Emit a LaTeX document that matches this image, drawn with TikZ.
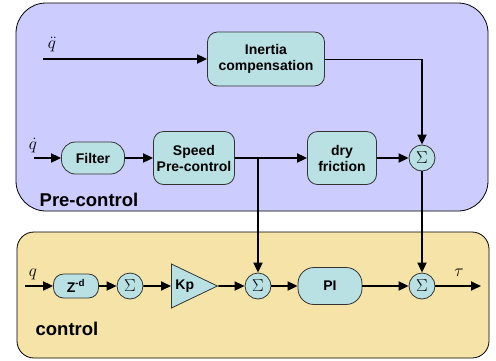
\documentclass[tikz,border=0pt]{standalone}
\usepackage[no-math]{fontspec}
\setmainfont{Liberation Sans}
\usepackage{amsmath}
\usetikzlibrary{shapes.geometric,arrows.meta,positioning,calc}

\definecolor{precolor}{RGB}{204,204,255}
\definecolor{ctrlcolor}{RGB}{245,227,168}
\definecolor{blockcolor}{RGB}{185,225,228}

\begin{document}
\begin{tikzpicture}[
    x=1pt, y=-1pt,
    area/.style={draw=black, line width=0.8pt},
    blockbox/.style={rectangle, draw=black!80, fill=blockcolor, line width=0.8pt, rounded corners=10pt, align=center, inner sep=1pt, font=\fontsize{14}{16}\selectfont\bfseries},
    sumnode/.style={circle, draw=black!80, fill=blockcolor, line width=0.8pt, minimum size=26pt, inner sep=0pt, font=\fontsize{16}{16}\selectfont},
    ampbox/.style={isosceles triangle, isosceles triangle stretches, draw=black!80, fill=blockcolor, line width=0.8pt, inner sep=1pt, font=\fontsize{14}{16}\selectfont\bfseries},
    areatitle/.style={font=\fontsize{18.5}{20}\selectfont\bfseries},
    siglabel/.style={font=\fontsize{17}{17}\selectfont},
    flow/.style={-{Triangle[length=10pt,width=9pt]}, line width=1.8pt}
]
\useasboundingbox (0,0) rectangle (496,360);

% Background areas
\draw[area, fill=precolor, rounded corners=30pt] (16,3) rectangle (488,211);
\draw[area, fill=ctrlcolor, rounded corners=17pt] (17,232) rectangle (489,358);
\node[areatitle] (pretitle) at (89,200) {Pre-control};
\node[areatitle] (ctrltitle) at (67,329) {control};

% Pre-control path
\coordinate (qddin) at (43,59);
\coordinate (qdin) at (34,158);
\node[siglabel] (qddlbl) at (52,45) {$\ddot{q}$};
\node[siglabel] (qdlbl) at (33,146) {$\dot{q}$};
\node[blockbox, minimum width=117pt, minimum height=54pt] (inertia) at (266,59) {Inertia\\compensation};
\node[blockbox, minimum width=63pt, minimum height=32pt, rounded corners=14pt] (filter) at (93,158) {Filter};
\node[blockbox, minimum width=81pt, minimum height=53pt] (speed) at (194,158) {Speed\\Pre-control};
\node[blockbox, minimum width=69pt, minimum height=53pt] (dry) at (342,158) {dry\\friction};
\node[sumnode] (sumpre) at (422,158) {$\Sigma$};

% Control path
\coordinate (qin) at (25,286);
\node[siglabel] (qlbl) at (33,274) {$q$};
\node[blockbox, minimum width=45pt, minimum height=24pt] (zd) at (76,286) {Z\textsuperscript{-d}};
\node[sumnode] (sumone) at (130,286) {$\Sigma$};
\node[ampbox, minimum width=44pt, minimum height=46pt, anchor=west] (kp) at (171,286) {Kp};
\node[sumnode] (sumtwo) at (258,286) {$\Sigma$};
\node[blockbox, minimum width=64pt, minimum height=37pt, rounded corners=16pt] (pi) at (330,286) {PI};
\node[sumnode] (sumout) at (422,286) {$\Sigma$};
\coordinate (tauout) at (481,286);
\node[siglabel] (taulbl) at (459,273) {$\tau$};

% Connect paths
\draw[flow] (qddin) -- (inertia);
\draw[line width=1pt] (inertia.east) -- (inertia.east -| sumpre);
\draw[flow] (inertia.east -| sumpre) -- (sumpre.north);
\draw[flow] (qdin) -- (filter);
\draw[flow] (filter) -- (speed);
\draw[flow] (speed) -- (dry);
\draw[flow] (dry) -- (sumpre);
\draw[flow] (speed.east -| sumtwo) -- (sumtwo);
\draw[flow] (sumpre) -- (sumout);

\draw[flow] (qin) -- (zd);
\draw[flow] (zd) -- (sumone);
\draw[flow] (sumone) -- (kp);
\draw[flow] (kp) -- (sumtwo);
\draw[flow] (sumtwo) -- (pi);
\draw[flow] (pi) -- (sumout);
\draw[flow] (sumout) -- (tauout);

\end{tikzpicture}
\end{document}
